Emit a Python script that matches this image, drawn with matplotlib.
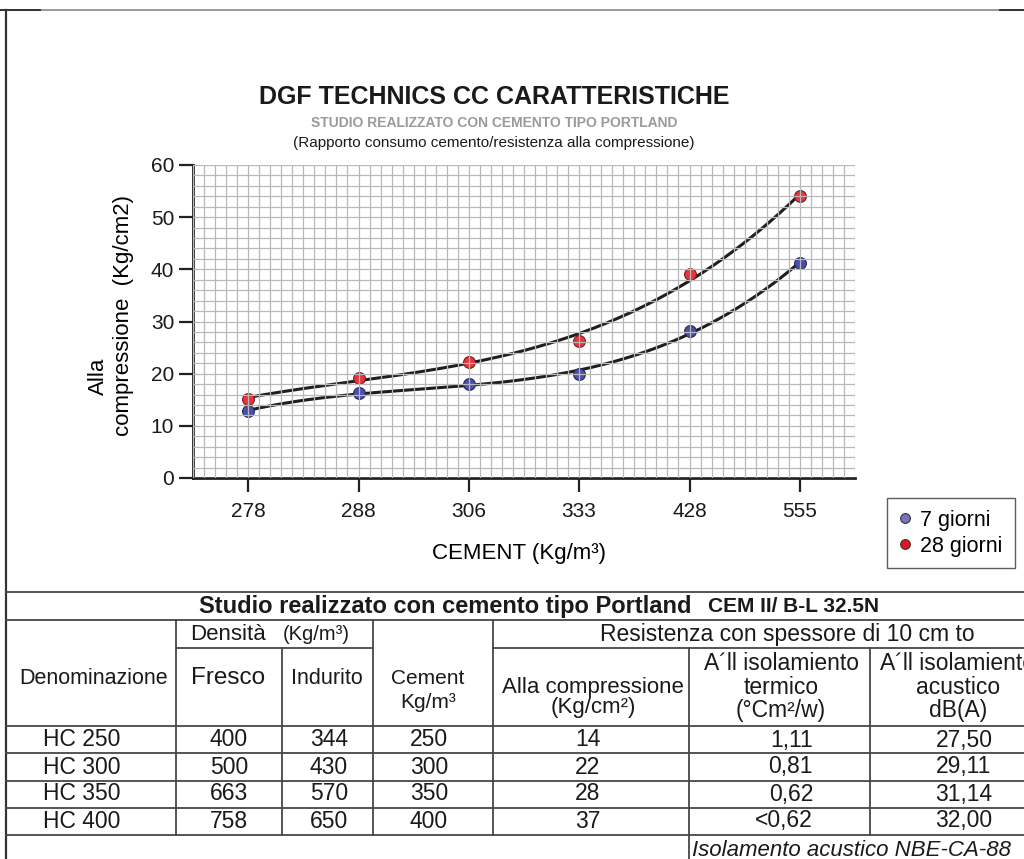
import numpy as np
import matplotlib.pyplot as plt
from matplotlib.lines import Line2D
from matplotlib.ticker import MultipleLocator

plt.rcParams['font.family'] = ['Liberation Sans', 'DejaVu Sans']

W, H = 1024, 859

# chart data
cement = ["278", "288", "306", "333", "428", "555"]
giorni_7 = [12.9, 16.2, 18.0, 20.0, 28.2, 41.2]
giorni_28 = [15.2, 19.2, 22.2, 26.2, 39.2, 54.0]
series_labels = ["7 giorni", "28 giorni"]

# table data
denominazione = ["HC 250", "HC 300", "HC 350", "HC 400"]
fresco = ["400", "500", "663", "758"]
indurito = ["344", "430", "570", "650"]
cement_kg = ["250", "300", "350", "400"]
compressione = ["14", "22", "28", "37"]
termico = ["1,11", "0,81", "0,62", "<0,62"]
acustico = ["27,50", "29,11", "31,14", "32,00"]


def px(x, y):
    # pixel position -> figure fraction
    return x / W, 1 - y / H


fig = plt.figure(figsize=(W / 100, H / 100), dpi=100)

# overlay in pixel coords for frame + table
ov = fig.add_axes([0, 0, 1, 1])
ov.set_xlim(0, W)
ov.set_ylim(H, 0)
ov.axis("off")
ov.patch.set_visible(False)

line = dict(color="#474747", lw=1.3)
ov.plot([0, W], [10, 10], color="#8a8a8a", lw=1.2)
ov.plot([0, 40], [10, 10], color="#333", lw=1.4)
ov.plot([1000, W], [10, 10], color="#333", lw=1.4)
ov.plot([6, 6], [10, H], color="#333", lw=1.6)

for y in [592, 620, 726, 753, 781, 808, 835]:
    ov.plot([6, W], [y, y], **line)
ov.plot([176, 373], [648, 648], **line)
ov.plot([493, W], [648, 648], **line)
for x, y0, y1 in [(176, 620, 835), (282, 648, 835), (373, 620, 835),
                  (493, 620, 835), (689, 648, H), (870, 648, 835)]:
    ov.plot([x, x], [y0, y1], **line)

tk = dict(va="center", color="#1a1a1a")
ov.text(199, 606, "Studio realizzato con cemento tipo Portland", ha="left",
        fontsize=17, weight="bold", **tk)
ov.text(708, 607, "CEM II/ B-L 32.5N", ha="left", fontsize=15, weight="bold", **tk)
ov.text(190, 634, "Densità", ha="left", fontsize=16, **tk)
ov.text(283, 634, "(Kg/m³)", ha="left", fontsize=14.5, **tk)
ov.text(787, 634, "Resistenza con spessore di 10 cm to", ha="center", fontsize=16.5, **tk)
ov.text(94, 678, "Denominazione", ha="center", fontsize=15.5, **tk)
ov.text(228, 678, "Fresco", ha="center", fontsize=17.5, **tk)
ov.text(327, 678, "Indurito", ha="center", fontsize=15.5, **tk)
ov.text(428, 678, "Cement", ha="center", fontsize=15, **tk)
ov.text(428, 703, "Kg/m³", ha="center", fontsize=15, **tk)
ov.text(593, 688, "Alla compressione", ha="center", fontsize=16, **tk)
ov.text(593, 708, "(Kg/cm²)", ha="center", fontsize=16, **tk)
for yy, s in zip([663, 687, 710], ["A´ll isolamiento", "termico", "(°Cm²/w)"]):
    ov.text(781, yy, s, ha="center", fontsize=16.5, **tk)
for yy, s in zip([663, 687, 710], ["A´ll isolamiento", "acustico", "dB(A)"]):
    ov.text(958, yy, s, ha="center", fontsize=16.5, **tk)

row_y = [740, 767, 794, 821]
for i, y in enumerate(row_y):
    ov.text(82, y, denominazione[i], ha="center", fontsize=16.5, **tk)
    ov.text(229, y, fresco[i], ha="center", fontsize=16.5, **tk)
    ov.text(329, y, indurito[i], ha="center", fontsize=16.5, **tk)
    ov.text(429, y, cement_kg[i], ha="center", fontsize=16.5, **tk)
    ov.text(588, y, compressione[i], ha="center", fontsize=16.5, **tk)
    ov.text(813, y, termico[i], ha="right", fontsize=16.5, **tk)
    ov.text(964, y, acustico[i], ha="center", fontsize=16.5, **tk)
ov.text(692, 850, "Isolamento acustico NBE-CA-88", ha="left", fontsize=16,
        style="italic", **tk)

# chart
ax = fig.add_axes([193 / W, 1 - 478 / H, (855 - 193) / W, (478 - 165) / H])
idx = np.arange(len(cement))
xs = np.linspace(0, len(cement) - 1, 300)
for vals, col, edge in [(giorni_7, "#4b4fa6", "#23255a"),
                        (giorni_28, "#e6353c", "#7a1a1d")]:
    fit = np.polyval(np.polyfit(idx, vals, 3), xs)
    ax.plot(xs, fit, color="#1e1e1e", lw=2.2, zorder=2)
    ax.plot(idx, vals, "o", ms=8.5, mfc=col, mec=edge, mew=0.8, zorder=2.1)

ax.set_xlim(-0.5, len(cement) - 0.5)
ax.set_ylim(0, 60)
ax.set_xticks(idx)
ax.set_xticklabels(cement)
ax.xaxis.set_minor_locator(MultipleLocator(0.1))
ax.yaxis.set_major_locator(MultipleLocator(10))
ax.yaxis.set_minor_locator(MultipleLocator(2))
ax.set_axisbelow(False)
ax.grid(which="both", color="#b8b8b8", lw=0.9)
ax.tick_params(which="minor", length=0)
ax.tick_params(which="major", direction="out", length=10, width=1.6,
               color="#222", labelsize=15, labelcolor="#1a1a1a")
ax.tick_params(axis="x", pad=7)
ax.tick_params(axis="y", pad=3.5)
for s in ["top", "right"]:
    ax.spines[s].set_visible(False)
for s in ["left", "bottom"]:
    ax.spines[s].set_linewidth(2)
    ax.spines[s].set_color("#222")

fig.text(*px(494, 97), "DGF TECHNICS CC CARATTERISTICHE", ha="center", va="center",
         fontsize=18, weight="bold", color="#1a1a1a")
fig.text(*px(494, 123), "STUDIO REALIZZATO CON CEMENTO TIPO PORTLAND", ha="center",
         va="center", fontsize=10, weight="bold", color="#9a9a9a")
fig.text(*px(494, 143), "(Rapporto consumo cemento/resistenza alla compressione)",
         ha="center", va="center", fontsize=11, color="#1a1a1a")
fig.text(*px(98, 376), "Alla", rotation=90, ha="center", va="center", fontsize=16)
fig.text(*px(123, 316), "compressione  (Kg/cm2)", rotation=90, ha="center",
         va="center", fontsize=16)
fig.text(*px(519, 553), "CEMENT (Kg/m³)", ha="center", va="center", fontsize=16)

handles = [Line2D([], [], ls="none", marker="o", ms=7, mfc="#7774bf", mec="#333",
                  mew=0.8, label=series_labels[0]),
           Line2D([], [], ls="none", marker="o", ms=7, mfc="#e3141e", mec="#333",
                  mew=0.8, label=series_labels[1])]
leg = fig.legend(handles=handles, loc="upper left", bbox_to_anchor=px(887, 498),
                 frameon=True, fancybox=False, edgecolor="#333", fontsize=15.5,
                 handlelength=0.6, handletextpad=0.4, borderpad=0.55,
                 labelspacing=0.22, borderaxespad=0)
leg.get_frame().set_linewidth(1.0)

fig.savefig("out.png", dpi=100)
